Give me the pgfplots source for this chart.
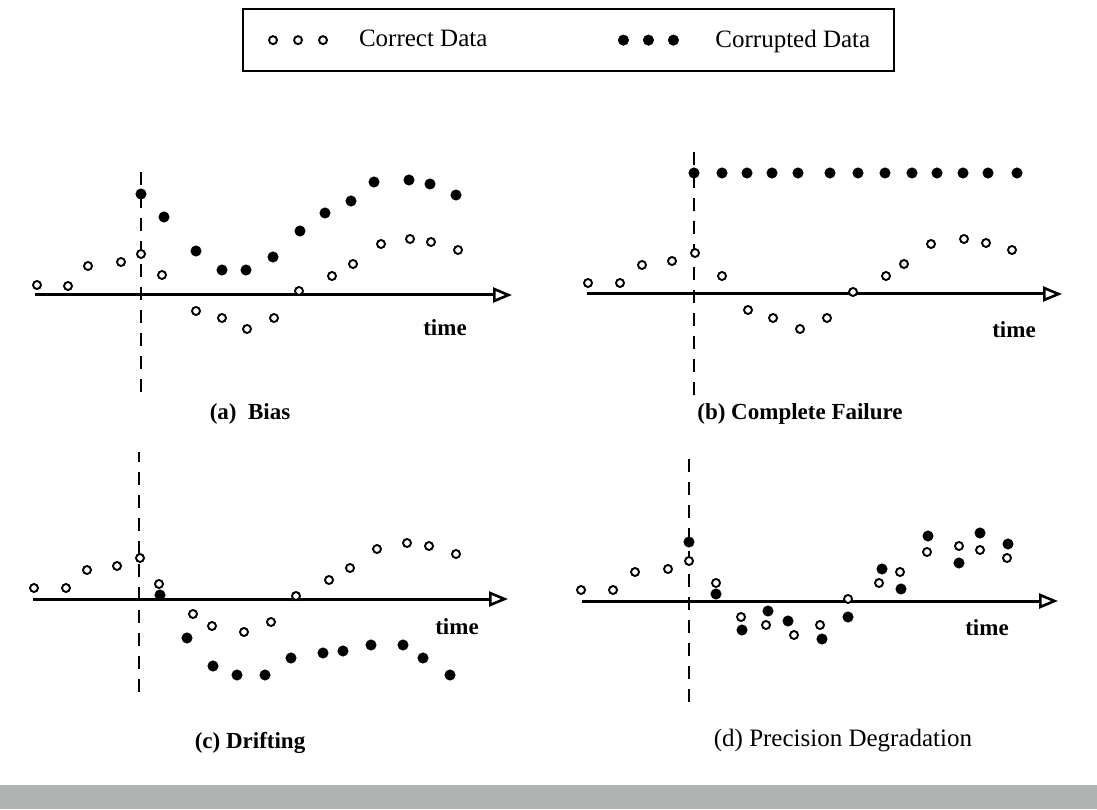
\documentclass[border=0pt]{standalone}
\usepackage{fontspec}
\setmainfont{Liberation Serif}
\usepackage{pgfplots}
\pgfplotsset{compat=1.18}
\usetikzlibrary{arrows.meta}

\pgfplotsset{
  panel/.style={
    x=0.5pt, y=0.5pt,
    axis x line=middle, axis y line=middle,
    x axis line style={line width=1.5pt, -{Triangle[open, length=9.5pt, width=7.5pt, line width=1.3pt]}},
    y axis line style={line width=1.3pt, -, dash pattern=on 6.5pt off 5pt},
    xtick=\empty, ytick=\empty,
    clip=false, anchor=south west,
  },
  correct/.style={only marks, mark=*, mark size=2.0pt,
    mark options={fill=white, draw=black, line width=0.95pt}},
  corrupt/.style={only marks, mark=*, mark size=2.6pt,
    mark options={fill=black, draw=black, line width=0.3pt}},
  trip/.style={legend image code/.code={
      \path[draw=none, fill=none] (-3pt,-3pt) rectangle (28pt,3pt);
      \draw[only marks, mark repeat=1, ##1] plot coordinates {(0pt,0pt) (12.5pt,0pt) (25pt,0pt)};}},
}
\newcommand{\lab}{\fontsize{11.5}{13}\selectfont\bfseries}

% correct data (same in every panel): time offset from fault, value
\pgfplotstableread{
x y
-104 10
-73 9
-53 29
-20 33
0 41
21 20
55 -16
81 -23
106 -34
133 -23
158 4
191 19
212 31
240 51
269 56
290 53
317 45
}\correctA
\pgfplotstableread{
x y
0 101
23 78
55 44
81 25
105 25
132 38
159 64
184 82
210 94
233 113
268 115
289 111
315 100
}\bias
\pgfplotstableread{
x y
-106 11
-74 11
-52 29
-22 33
1 41
28 18
54 -16
79 -24
106 -35
133 -24
159 2
192 18
210 30
237 50
270 55
292 51
318 44
}\correctB
\pgfplotstableread{
x y
0 121
28 121
53 121
78 121
104 121
136 121
164 121
191 121
218 121
243 121
269 121
294 121
323 121
}\failure
\pgfplotstableread{
x y
-105 11
-73 11
-52 29
-22 33
1 41
20 15
54 -15
73 -27
105 -33
132 -23
157 3
190 19
211 31
238 50
268 56
290 53
317 45
}\correctC
\pgfplotstableread{
x y
21 4
48 -39
74 -67
98 -76
126 -76
152 -59
184 -54
204 -52
232 -46
264 -46
284 -59
311 -76
}\drift
\pgfplotstableread{
x y
-108 11
-76 11
-54 29
-21 32
0 40
27 18
52 -16
77 -24
105 -34
131 -24
159 2
190 18
211 29
238 49
270 55
291 51
318 43
}\correctD
\pgfplotstableread{
x y
0 59
27 7
53 -29
79 -10
99 -20
133 -38
159 -16
193 32
212 12
239 65
270 38
291 68
319 57
}\precision

\begin{document}
\begin{tikzpicture}
\useasboundingbox (0,0) rectangle (548.5pt,404.5pt);
\fill[fill={rgb,255:red,176;green,180;blue,178}] (0,0) rectangle (548.5pt,12pt);

% (a) Bias
\begin{axis}[panel, at={(17.5pt,208.5pt)}, xmin=-106, xmax=371, ymin=-97, ymax=132,
  legend style={at={(axis description cs:0.434,1.677)}, anchor=north west,
    draw=black, line width=1pt, fill=white,
    inner xsep=12pt, inner ysep=10.5pt,
    font=\fontsize{12.5}{14}\selectfont,
    nodes={inner sep=0pt},
    /tikz/column 1/.style={column sep=15pt},
    /tikz/column 2/.style={column sep=65pt},
    /tikz/column 3/.style={column sep=18pt}},
  legend columns=2, legend cell align=left]
\addplot[correct, trip] table {\correctA};
\addlegendentry{Correct Data}
\addplot[corrupt, trip] table {\bias};
\addlegendentry{Corrupted Data}
\node[font=\lab] at (axis cs:304,-33) {time};
\node[font=\lab] at (axis cs:109,-119) {(a)\enspace Bias};
\end{axis}

% (b) Complete Failure
\begin{axis}[panel, at={(293.5pt,207pt)}, xmin=-107, xmax=368, ymin=-101, ymax=142]
\addplot[correct] table {\correctB};
\addplot[corrupt] table {\failure};
\node[font=\lab] at (axis cs:320,-36) {time};
\node[font=\lab] at (axis cs:106,-120) {(b) Complete Failure};
\end{axis}

% (c) Drifting
\begin{axis}[panel, at={(16.5pt,58.5pt)}, xmin=-106, xmax=369, ymin=-93, ymax=147]
\addplot[correct] table {\correctC};
\addplot[corrupt] table {\drift};
\node[font=\lab] at (axis cs:318,-28) {time};
\node[font=\lab] at (axis cs:111,-144) {(c) Drifting};
\end{axis}

% (d) Precision Degradation
\begin{axis}[panel, at={(291pt,53.5pt)}, xmin=-107, xmax=369, ymin=-101, ymax=145]
\addplot[correct] table {\correctD};
\addplot[corrupt] table {\precision};
\node[font=\lab] at (axis cs:298,-27) {time};
\node[font=\fontsize{12.5}{14}\selectfont] at (axis cs:154,-140) {(d) Precision Degradation};
\end{axis}
\end{tikzpicture}
\end{document}
